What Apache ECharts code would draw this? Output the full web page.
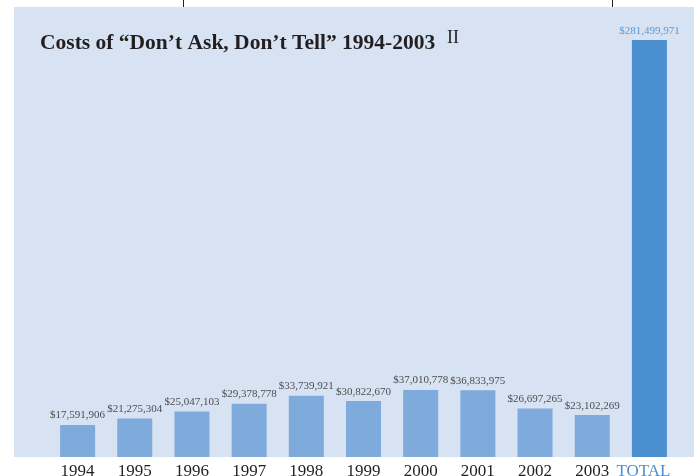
<!DOCTYPE html>
<html>
<head>
<meta charset="utf-8">
<script src="https://cdn.jsdelivr.net/npm/echarts@6/dist/echarts.min.js"></script>
<style>
  html, body { margin: 0; padding: 0; background: #fff; }
  #chart { width: 694px; height: 476px; }
</style>
</head>
<body>
<div id="chart"></div>
<script>
// data
const years = ['1994', '1995', '1996', '1997', '1998', '1999', '2000', '2001', '2002', '2003'];
const yearCosts = [17591906, 21275304, 25047103, 29378778, 33739921, 30822670, 37010778, 36833975, 26697265, 23102269];
const totalLabel = 'TOTAL';
const totalCost = 281499971;

const categories = years.concat([totalLabel]);
// yearly bars and the total bar are drawn on different scales in the original
const yearData = yearCosts.concat(['-']);
const totalData = years.map(function () { return '-'; }).concat([totalCost]);

function money(v) {
    return '$' + Number(v).toLocaleString('en-US');
}

let myChart = echarts.init(document.getElementById('chart'));

const option = {
    backgroundColor: '#ffffff',
    animation: false,
    // 标题
    title: [
        {
            text: 'Costs of \u201cDon\u2019t Ask, Don\u2019t Tell\u201d 1994-2003',
            left: 35,
            top: 27,
            textStyle: {
                fontFamily: 'Liberation Serif',
                fontWeight: 'bold',
                fontSize: 21.5,
                color: '#231f20'
            }
        },
        {
            text: 'II',
            left: 442,
            top: 24,
            textStyle: {
                fontFamily: 'Liberation Serif',
                fontWeight: 'normal',
                fontSize: 18,
                color: '#231f20'
            }
        }
    ],
    graphic: [
        {
            type: 'rect',
            z: -10,
            shape: { x: 14, y: 7, width: 680, height: 450 },
            style: { fill: '#d7e2f2' }
        },
        {
            type: 'line',
            shape: { x1: 183.5, y1: 0, x2: 183.5, y2: 7 },
            style: { stroke: '#231f20', lineWidth: 1 }
        },
        {
            type: 'line',
            shape: { x1: 612.5, y1: 0, x2: 612.5, y2: 7 },
            style: { stroke: '#231f20', lineWidth: 1 }
        }
    ],
    grid: {
        left: 49,
        width: 629,
        top: 40,
        bottom: 19,
        outerBoundsMode: 'none'
    },
    xAxis: {
        type: 'category',
        data: categories,
        axisLine: { show: false },
        axisTick: { show: false },
        axisLabel: {
            interval: 0,
            margin: 6,
            fontFamily: 'Liberation Serif',
            fontSize: 17,
            color: '#231f20',
            formatter: function (value) {
                return value === totalLabel ? '{t|' + value + '}' : value;
            },
            rich: {
                t: {
                    fontFamily: 'Liberation Serif',
                    fontSize: 17,
                    color: '#4a8fcf',
                    padding: [0, 12, 0, 0]
                }
            }
        }
    },
    yAxis: [
        {
            type: 'value',
            min: 0,
            max: 230000000,
            show: false,
            splitLine: { show: false }
        },
        {
            type: 'value',
            min: 0,
            max: totalCost,
            show: false,
            splitLine: { show: false }
        }
    ],
    series: [
        {
            name: 'year',
            type: 'bar',
            yAxisIndex: 0,
            barWidth: 35,
            barGap: '-100%',
            data: yearData,
            itemStyle: { color: '#7eaadc' },
            label: {
                show: true,
                position: 'top',
                distance: 4,
                fontFamily: 'Liberation Serif',
                fontSize: 11,
                color: '#4d4d4f',
                formatter: function (p) { return money(p.value); }
            }
        },
        {
            name: 'total',
            type: 'bar',
            yAxisIndex: 1,
            barWidth: 35,
            barGap: '-100%',
            data: totalData,
            itemStyle: { color: '#4a8fcf' },
            label: {
                show: true,
                position: 'top',
                distance: 3,
                fontFamily: 'Liberation Serif',
                fontSize: 11,
                color: '#5b9bd5',
                formatter: function (p) { return money(p.value); }
            }
        }
    ]
};

myChart.setOption(option);
</script>
</body>
</html>
